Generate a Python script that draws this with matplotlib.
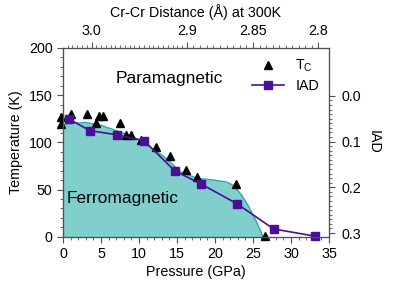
import matplotlib
matplotlib.use('Agg')
import matplotlib.pyplot as plt
import numpy as np
from matplotlib.ticker import MultipleLocator, FixedLocator

plt.rcParams['font.family'] = ['Liberation Sans', 'DejaVu Sans']
plt.rcParams['mathtext.fontset'] = 'custom'
plt.rcParams['mathtext.rm'] = 'Liberation Sans'
plt.rcParams['mathtext.it'] = 'Liberation Sans'

# Tc points (pressure GPa, temperature K)
tc_p = [-0.2, -0.2, 1.0, 3.2, 4.4, 4.8, 5.3, 7.5, 8.3, 9.0, 10.2, 12.2, 14.1, 16.2, 17.6, 22.8, 26.6]
tc_t = [126.5, 119.5, 130, 129.5, 120.5, 127.5, 127.5, 120.5, 108, 107.5, 102.5, 95.5, 86, 70.5, 63.5, 55.5, 1]

# IAD points (pressure GPa, IAD)
iad_p = [0.83, 3.55, 7.1, 10.7, 14.7, 18.2, 22.9, 27.7, 33.2]
iad_v = [0.051, 0.076, 0.085, 0.0985, 0.164, 0.193, 0.236, 0.291, 0.307]

# ferromagnetic boundary
fm_p = [0, 1, 3, 5, 7.5, 10, 12, 13.6, 15.4, 17.6, 19.8, 21.5, 22.5, 23.5, 24.5, 25.5, 26.0, 26.3]
fm_t = [118.5, 120, 121, 118, 111, 103, 92, 83, 69, 62, 60, 58, 54, 44, 31, 15, 6, 0]

# top axis: Cr-Cr distance ticks and their pressure positions
dist_labels = ['3.0', '2.9', '2.85', '2.8']
dist_vals = [3.0, 2.9, 2.85, 2.8]
dist_p = [3.75, 16.3, 25.0, 33.6]

teal_fill = '#80cfcd'
teal_edge = '#2fa9a9'
purple = '#4a0f96'
frame = '#505050'
fs = 10.3

fig = plt.figure(figsize=(4, 2.86), dpi=100)
ax = fig.add_axes([0.1575, 0.1724, 0.665, 0.66])

ax.fill_between(fm_p, 0, fm_t, color=teal_fill, lw=0, zorder=1)
ax.plot(fm_p, fm_t, color=teal_edge, lw=1, zorder=2)
ax.plot(tc_p, tc_t, '^', color='black', ms=5.8, zorder=5, clip_on=False, label='T$_\\mathrm{C}$')

ax.set_xlim(0, 35)
ax.set_ylim(0, 200)
ax.xaxis.set_major_locator(MultipleLocator(5))
ax.xaxis.set_minor_locator(MultipleLocator(1))
ax.yaxis.set_major_locator(MultipleLocator(50))
ax.yaxis.set_minor_locator(MultipleLocator(10))
ax.tick_params(which='major', direction='out', length=4, labelsize=fs, color=frame)
ax.tick_params(which='minor', direction='out', length=2, color=frame)
ax.tick_params(axis='y', right=False)
ax.set_xlabel('Pressure (GPa)', fontsize=fs, labelpad=3)
ax.set_ylabel('Temperature (K)', fontsize=fs)

ax.text(14, 168, 'Paramagnetic', fontsize=12.5, ha='center', va='center')
ax.text(0.5, 40, 'Ferromagnetic', fontsize=12.5, ha='left', va='center')

# right axis: IAD (inverted)
ax2 = ax.twinx()
ax2.plot(iad_p, iad_v, '-s', color=purple, ms=6, lw=1.2, zorder=4, clip_on=False, label='IAD')
ax2.set_ylim(0.308, -0.105)
ax2.yaxis.set_major_locator(FixedLocator([0.0, 0.1, 0.2, 0.3]))
ax2.yaxis.set_minor_locator(FixedLocator(np.arange(0, 0.301, 0.01)))
ax2.set_yticklabels(['0.0', '0.1', '0.2', '0.3'])
ax2.tick_params(which='major', direction='out', length=4, labelsize=fs, color=frame, pad=5)
ax2.tick_params(which='minor', direction='out', length=2, color=frame)
ax2.set_ylabel('IAD', fontsize=fs, rotation=-90, labelpad=14)

# top axis: Cr-Cr distance
ax3 = ax.twiny()
ax3.set_xlim(ax.get_xlim())
ax3.xaxis.set_major_locator(FixedLocator(dist_p))
ax3.set_xticklabels(dist_labels)
d_minor = np.arange(2.80, 3.031, 0.005)
sl = (dist_p[1] - dist_p[0]) / (dist_vals[1] - dist_vals[0])
p_minor = np.where(d_minor > 3.0, dist_p[0] + (d_minor - 3.0) * sl,
                   np.interp(d_minor, dist_vals[::-1], dist_p[::-1]))
ax3.xaxis.set_minor_locator(FixedLocator(p_minor[(p_minor >= 0) & (p_minor <= 35)]))
ax3.tick_params(which='major', direction='out', length=4, labelsize=fs, color=frame)
ax3.tick_params(which='minor', direction='out', length=2, color=frame)
ax3.set_xlabel('Cr-Cr Distance (Å) at 300K', fontsize=fs, labelpad=5)

for a in (ax, ax2, ax3):
    for s in a.spines.values():
        s.set_color(frame)
        s.set_linewidth(0.8)

h1, l1 = ax.get_legend_handles_labels()
h2, l2 = ax2.get_legend_handles_labels()
ax2.legend(h1 + h2, l1 + l2, loc='upper right', frameon=False, fontsize=fs,
           handlelength=2.2, borderaxespad=0.3, labelspacing=0.3)

fig.savefig('out.png', dpi=100)
